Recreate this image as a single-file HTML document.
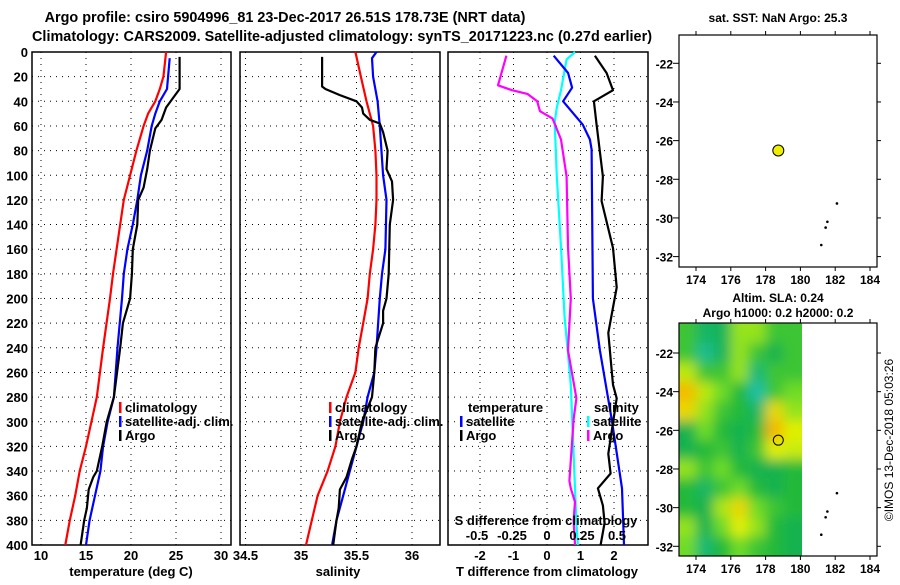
<!DOCTYPE html>
<html><head><meta charset="utf-8"><style>
body{margin:0;background:#fff;width:900px;height:580px;overflow:hidden}
svg text{font-family:"Liberation Sans",sans-serif;font-weight:bold;fill:#000}
</style></head><body>
<svg id="s" width="900" height="580" xmlns="http://www.w3.org/2000/svg">
<defs><filter id="bl" x="0" y="0" width="1" height="1"><feGaussianBlur stdDeviation="6"/></filter>
<clipPath id="mc"><rect x="679" y="323" width="123" height="233"/></clipPath></defs>
<text x="285" y="22" font-size="14.4" text-anchor="middle">Argo profile: csiro 5904996_81 23-Dec-2017 26.51S 178.73E (NRT data)</text>
<text x="32" y="41" font-size="14.4" textLength="620">Climatology: CARS2009. Satellite-adjusted climatology: synTS_20171223.nc (0.27d earlier)</text>
<text x="778" y="22" font-size="12" text-anchor="middle">sat. SST: NaN Argo: 25.3</text>
<text x="778" y="302" font-size="12" text-anchor="middle">Altim. SLA: 0.24</text>
<text x="778" y="317" font-size="12" text-anchor="middle">Argo h1000: 0.2 h2000: 0.2</text>
<text x="893" y="440" font-size="12" style="font-weight:normal" text-anchor="middle" transform="rotate(-90 893 440)">©IMOS 13-Dec-2018 05:03:26</text>
<g id="g"></g>
</svg>
<script>
const depthTicks=[0,20,40,60,80,100,120,140,160,180,200,220,240,260,280,300,320,340,360,380,400];
const tTicks=[10,15,20,25,30];
const sTicks=[34.5,35,35.5,36];
const sTickLabels=["34.5","35","35.5","36"];
const dtTicks=[-2,-1,0,1,2];
const dsTicks=[-0.5,-0.25,0,0.25,0.5];
const dsTickLabels=["-0.5","-0.25","0","0.25","0.5"];
// temperature profiles [depth, value]
const tClim=[[0,23.9],[20,23.6],[30,23.2],[40,22.7],[50,21.9],[60,21.4],[70,21.0],[80,20.6],[100,19.9],[120,19.2],[140,18.8],[160,18.4],[180,18.0],[200,17.67],[240,16.9],[280,16.2],[300,15.6],[320,15.0],[340,14.3],[360,13.8],[380,13.2],[400,12.7]];
const tSat=[[5,24.3],[30,24.0],[40,23.2],[50,22.7],[60,22.3],[80,21.8],[100,21.1],[120,20.7],[140,20.2],[160,19.6],[180,19.2],[200,19.0],[240,18.5],[280,18.1],[300,17.4],[320,16.9],[340,16.6],[360,16.0],[380,15.4],[400,15.0]];
const tArgo=[[4,25.4],[30,25.4],[35,24.9],[45,23.9],[55,23.4],[62,22.7],[80,22.1],[95,21.8],[110,21.4],[120,20.8],[140,20.7],[160,20.2],[180,20.1],[200,19.9],[220,19.1],[240,18.8],[280,18.1],[300,17.3],[320,16.8],[340,16.2],[345,15.8],[355,15.3],[370,15.1],[380,14.8],[400,14.4]];
// salinity profiles
const sClim=[[0,35.49],[20,35.54],[40,35.59],[60,35.65],[80,35.67],[100,35.68],[120,35.68],[140,35.67],[160,35.65],[180,35.62],[200,35.6],[220,35.56],[240,35.52],[260,35.49],[280,35.41],[300,35.35],[320,35.31],[340,35.24],[360,35.15],[400,35.045]];
const sSat=[[0,35.68],[5,35.64],[20,35.65],[40,35.69],[60,35.71],[100,35.74],[120,35.77],[160,35.76],[180,35.73],[200,35.71],[240,35.68],[260,35.66],[280,35.6],[300,35.56],[320,35.5],[340,35.44],[360,35.38],[380,35.32],[400,35.28]];
const sArgo=[[4,35.19],[28,35.19],[30,35.22],[35,35.35],[40,35.5],[45,35.55],[50,35.56],[55,35.62],[58,35.71],[65,35.74],[80,35.78],[95,35.77],[105,35.82],[120,35.83],[140,35.8],[180,35.79],[200,35.77],[210,35.74],[220,35.74],[240,35.67],[260,35.66],[280,35.64],[300,35.55],[320,35.5],[330,35.46],[345,35.41],[355,35.35],[370,35.34],[380,35.32],[400,35.29]];
// differences
const dtSat=[[3,0.2],[17,0.63],[29,0.75],[40,0.48],[59,1.07],[71,1.28],[79,1.33],[200,1.37],[242,1.58],[298,1.93],[354,2.24],[400,2.3]];
const dtArgo=[[3,1.43],[17,1.78],[31,1.97],[40,1.4],[59,1.48],[101,1.67],[121,1.63],[159,1.97],[191,2.08],[228,1.83],[270,1.97],[281,2.08],[326,1.83],[342,1.9],[354,1.52],[368,1.67],[382,1.72],[400,1.6]];
const dsSat=[[0,0.2],[6,0.14],[31,0.1],[45,0.07],[57,0.055],[101,0.07],[158,0.1],[214,0.125],[270,0.17],[326,0.19],[382,0.21],[400,0.22]];
const dsArgo=[[3,-0.29],[27,-0.35],[31,-0.25],[34,-0.14],[40,-0.07],[48,-0.05],[54,0.04],[71,0.1],[101,0.14],[158,0.15],[200,0.17],[242,0.15],[281,0.21],[298,0.19],[348,0.16],[354,0.17],[365,0.2],[380,0.19],[400,0.2]];
// maps
const latTicks=[-22,-24,-26,-28,-30,-32];
const lonTicks=[174,176,178,180,182,184];
const argoLon=178.73, argoLat=-26.51;
const islands=[[182.1,-29.25],[181.55,-30.2],[181.45,-30.5],[181.2,-31.4]];
const slaLats=[-21,-22,-23,-24,-25,-26,-27,-28,-29,-30,-31,-32,-33];
const slaLons=[173.5,174.5,175.5,176.5,177.5,178.5,179.5];
const slaGrid=[
[0.42,0.28,0.3,0.55,0.55,0.42,0.42],
[0.42,0.2,0.3,0.55,0.42,0.32,0.42],
[0.6,0.42,0.42,0.55,0.25,0.42,0.42],
[0.8,0.6,0.5,0.38,0.16,0.42,0.5],
[0.72,0.55,0.42,0.38,0.28,0.72,0.55],
[0.32,0.5,0.38,0.32,0.38,0.82,0.65],
[0.32,0.38,0.42,0.32,0.42,0.65,0.62],
[0.55,0.42,0.5,0.38,0.32,0.32,0.38],
[0.38,0.28,0.42,0.5,0.38,0.32,0.38],
[0.38,0.32,0.58,0.72,0.5,0.42,0.38],
[0.55,0.32,0.5,0.65,0.55,0.38,0.32],
[0.5,0.25,0.38,0.5,0.42,0.38,0.32],
[0.5,0.28,0.38,0.5,0.42,0.38,0.32]];

const NS='http://www.w3.org/2000/svg';
const G=document.getElementById('g');
function mk(t,a,p){const e=document.createElementNS(NS,t);for(const k in a)e.setAttribute(k,a[k]);(p||G).appendChild(e);return e;}
const Y0=52,Y1=545;
function yD(d){return Y0+(d/400)*(Y1-Y0);}
const xT=v=>41+(v-10)*9;
const xS=v=>245.5+(v-34.5)*111;
const xDT=v=>547+v*33.5;
const xDS=v=>547+v*140;
const mX=lon=>696+(lon-174)*17.4;
const mY1=lat=>63.3+(-22-lat)*19.33;
const mY2=lat=>353+(-22-lat)*19.33;

function frame(x0,x1,name){
  const r=mk('rect',{x:x0,y:Y0,width:x1-x0,height:Y1-Y0,fill:'none',stroke:'#000','stroke-width':1.5});
  
  
  depthTicks.forEach(d=>{if(d>0&&d<400){const l=mk('line',{x1:x0,x2:x1,y1:yD(d),y2:yD(d),stroke:'#000','stroke-dasharray':'1,5','stroke-width':1});
    
    }});
}
function vgrid(vals,fx,name){vals.forEach(v=>{const l=mk('line',{x1:fx(v),x2:fx(v),y1:Y0,y2:Y1,stroke:'#000','stroke-dasharray':'1,5','stroke-width':1});
  
  });}
function line(data,fx,color,name){const p=mk('polyline',{points:data.map(q=>fx(q[1]).toFixed(1)+','+yD(q[0]).toFixed(1)).join(' '),fill:'none',stroke:color,'stroke-width':2.2,'stroke-linejoin':'round'});
  
  }
function txt(x,y,s,opt,name){const t=mk('text',Object.assign({x:x,y:y,'font-size':13},opt||{}));t.textContent=s;
  
  return t;}

// panel 1
frame(32,231,'temperature-panel');vgrid(tTicks,xT,'temp-gridline');
depthTicks.forEach(d=>txt(28,yD(d)+5,String(d),{'text-anchor':'end'},'depth-tick-label'));
tTicks.forEach(v=>txt(xT(v),560,String(v),{'text-anchor':'middle'},'temp-tick-label'));
txt(131,576,'temperature (deg C)',{'text-anchor':'middle'},'temp-axis-title');
line(tClim,xT,'#f00','temp-climatology-line');line(tSat,xT,'#00f','temp-satellite-line');line(tArgo,xT,'#000','temp-argo-line');
// panel 2
frame(240,440,'salinity-panel');vgrid(sTicks,xS,'sal-gridline');
sTicks.forEach((v,i)=>txt(xS(v),560,sTickLabels[i],{'text-anchor':'middle'},'sal-tick-label'));
txt(338,576,'salinity',{'text-anchor':'middle'},'sal-axis-title');
line(sClim,xS,'#f00','sal-climatology-line');line(sSat,xS,'#00f','sal-satellite-line');line(sArgo,xS,'#000','sal-argo-line');
// legends
function leg(x,y,c,s,name){const r=mk('rect',{x:x,y:y-10,width:2.5,height:11,fill:c});
  
  
  txt(x+6,y,s,{},name);}
[[119,'#f00','climatology'],[119,'#00f','satellite-adj. clim.'],[119,'#000','Argo']].forEach((a,i)=>leg(a[0],412+i*14,a[1],a[2],'temp-legend-entry'));
[[329,'#f00','climatology'],[329,'#00f','satellite-adj. clim.'],[329,'#000','Argo']].forEach((a,i)=>leg(a[0],412+i*14,a[1],a[2],'sal-legend-entry'));
// panel 3
frame(448,648,'difference-panel');vgrid(dtTicks,xDT,'diff-gridline');
dtTicks.forEach(v=>txt(xDT(v),560,String(v),{'text-anchor':'middle'},'tdiff-tick-label'));
txt(547,576,'T difference from climatology',{'text-anchor':'middle'},'tdiff-axis-title');
line(dsSat,xDS,'#0ff','sdiff-satellite-line');line(dsArgo,xDS,'#f0f','sdiff-argo-line');
line(dtSat,xDT,'#00f','tdiff-satellite-line');line(dtArgo,xDT,'#000','tdiff-argo-line');
txt(546,525,'S difference from climatology',{'text-anchor':'middle'},'sdiff-axis-title');
dsTicks.forEach((v,i)=>txt(xDS(v),540,dsTickLabels[i],{'text-anchor':'middle'},'sdiff-tick-label'));
txt(468,412,'temperature',{},'diff-legend-temperature');
leg(460,426,'#00f','satellite','diff-legend-tsat');leg(460,440,'#000','Argo','diff-legend-targo');
txt(594,412,'salinity',{},'diff-legend-salinity');
leg(587,426,'#0ff','satellite','diff-legend-ssat');leg(587,440,'#f0f','Argo','diff-legend-sargo');

// maps
function col(v){const st=[[0.15,[32,192,170]],[0.35,[16,176,64]],[0.5,[110,220,40]],[0.65,[225,240,0]],[0.85,[250,170,0]]];
  if(v<=st[0][0])return 'rgb('+st[0][1]+')';
  for(let i=1;i<st.length;i++){if(v<=st[i][0]){const f=(v-st[i-1][0])/(st[i][0]-st[i-1][0]);const a=st[i-1][1],b=st[i][1];return 'rgb('+a.map((c,k)=>Math.round(c+(b[k]-c)*f)).join(',')+')';}}
  return 'rgb(250,170,0)';}
const hm=mk('g',{'clip-path':'url(#mc)'});


const hb=mk('g',{filter:'url(#bl)'},hm);
mk('rect',{x:660,y:300,width:160,height:280,fill:col(0.42)},hb);
slaGrid.forEach((row,i)=>row.forEach((v,j)=>{const c=mk('rect',{x:mX(slaLons[j]-0.5)-(j==0?20:0),y:mY2(slaLats[i]+0.5)-(i==0?20:0),width:17.4+(j==0?20:0)+(j==row.length-1?20:0),height:19.33+(i==0?20:0)+(i==slaGrid.length-1?20:0),fill:col(v)},hb);
  
  }));
function mapFrame(y0,y1,fy,name){
  const r=mk('rect',{x:679,y:y0,width:198,height:y1-y0,fill:'none',stroke:'#000','stroke-width':1.2});
  
  
  latTicks.forEach(l=>{mk('line',{x1:673,x2:679,y1:fy(l),y2:fy(l),stroke:'#000'});mk('line',{x1:877,x2:881,y1:fy(l),y2:fy(l),stroke:'#000'});txt(673,fy(l)+5,String(l),{'text-anchor':'end','font-size':12},'lat-tick-label');});
  lonTicks.forEach(l=>{mk('line',{x1:mX(l),x2:mX(l),y1:y0-4,y2:y0,stroke:'#000'});mk('line',{x1:mX(l),x2:mX(l),y1:y1,y2:y1+4,stroke:'#000'});txt(mX(l),y1+17,String(l),{'text-anchor':'middle','font-size':12},'lon-tick-label');});
  islands.forEach(p=>{const e=mk('circle',{cx:mX(p[0]),cy:fy(p[1]),r:1.3,fill:'#000'});
    
    });
}
mapFrame(35,267,mY1,'sst-map');
mapFrame(323,556,mY2,'sla-map');
const d1=mk('circle',{cx:mX(argoLon),cy:mY1(argoLat),r:5.5,fill:'#ee0',stroke:'#000','stroke-width':1});


const d2=mk('circle',{cx:mX(argoLon),cy:mY2(argoLat),r:5,fill:'none',stroke:'#000','stroke-width':1});


</script>
</body></html>
